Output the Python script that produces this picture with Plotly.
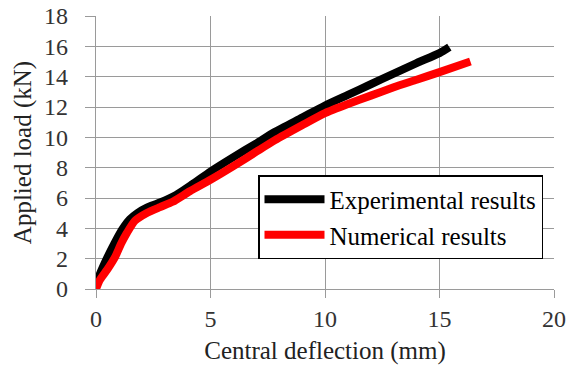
import plotly.graph_objects as go

exp_x = [0.0, 0.2, 0.5, 0.8, 1.13, 1.48, 1.8, 2.2, 2.8, 3.5, 4.2, 5.0, 6.0, 7.0, 7.8, 9.0, 10.0, 11.0, 12.0, 13.0, 14.0, 15.0, 15.43]
exp_y = [0.3, 1.1, 2.1, 3.0, 3.9, 4.6, 5.0, 5.35, 5.7, 6.2, 6.9, 7.75, 8.7, 9.6, 10.35, 11.3, 12.1, 12.8, 13.5, 14.2, 14.9, 15.55, 15.95]

num_x = [0.0, 0.17, 0.5, 0.83, 1.1, 1.35, 1.7, 2.2, 2.8, 3.35, 4.1, 5.0, 6.0, 7.0, 7.8, 9.0, 10.0, 11.0, 12.0, 13.0, 14.0, 15.0, 16.35]
num_y = [0.0, 0.6, 1.3, 2.1, 3.0, 3.7, 4.5, 5.0, 5.4, 5.75, 6.45, 7.2, 8.1, 9.05, 9.8, 10.8, 11.6, 12.2, 12.75, 13.3, 13.8, 14.3, 15.0]

x_ticks = [0, 5, 10, 15, 20]
y_ticks = [0, 2, 4, 6, 8, 10, 12, 14, 16, 18]

font_family = "Liberation Serif"
grid_col = "#9a9a9a"

fig = go.Figure()
fig.add_trace(go.Scatter(x=exp_x, y=exp_y, mode="lines", name="Experimental results",
                         line=dict(color="black", width=8, shape="spline", smoothing=0.6)))
fig.add_trace(go.Scatter(x=num_x, y=num_y, mode="lines", name="Numerical results",
                         line=dict(color="#ff0000", width=8, shape="spline", smoothing=0.6)))

fig.update_layout(
    width=567, height=369,
    margin=dict(l=96, r=13, t=16, b=80),
    paper_bgcolor="white", plot_bgcolor="white",
    font=dict(family=font_family, size=24, color="#333333"),
    showlegend=True,
    legend=dict(x=(543 - 96) / 458, y=(289 - 175) / 273, xanchor="right", yanchor="top",
                bgcolor="white", bordercolor="black", borderwidth=1.5,
                font=dict(family=font_family, size=25, color="black"),
                itemwidth=60, tracegroupgap=0),
    xaxis=dict(range=[0, 20], tickvals=x_ticks, showgrid=True, gridcolor=grid_col, gridwidth=1.2,
               zeroline=False, showline=True, linecolor=grid_col, linewidth=1.2,
               ticks="outside", ticklen=8, tickcolor=grid_col, tickwidth=1.2,
               ticklabelstandoff=0, automargin=False,
               title=dict(text="Central deflection (mm)", font=dict(size=25, color="#222222"), standoff=10)),
    yaxis=dict(range=[0, 18], tickvals=y_ticks, showgrid=True, gridcolor=grid_col, gridwidth=1.2,
               zeroline=False, showline=True, linecolor=grid_col, linewidth=1.2,
               ticks="outside", ticklen=10, tickcolor=grid_col, tickwidth=1.2,
               ticklabelstandoff=12, automargin=False,
               title=dict(text="Applied load (kN)", font=dict(size=25, color="#222222"), standoff=5)),
)

fig.write_html("out.html", config={"displayModeBar": False},
               post_script="document.body.style.margin='0';document.body.style.overflow='hidden';")
